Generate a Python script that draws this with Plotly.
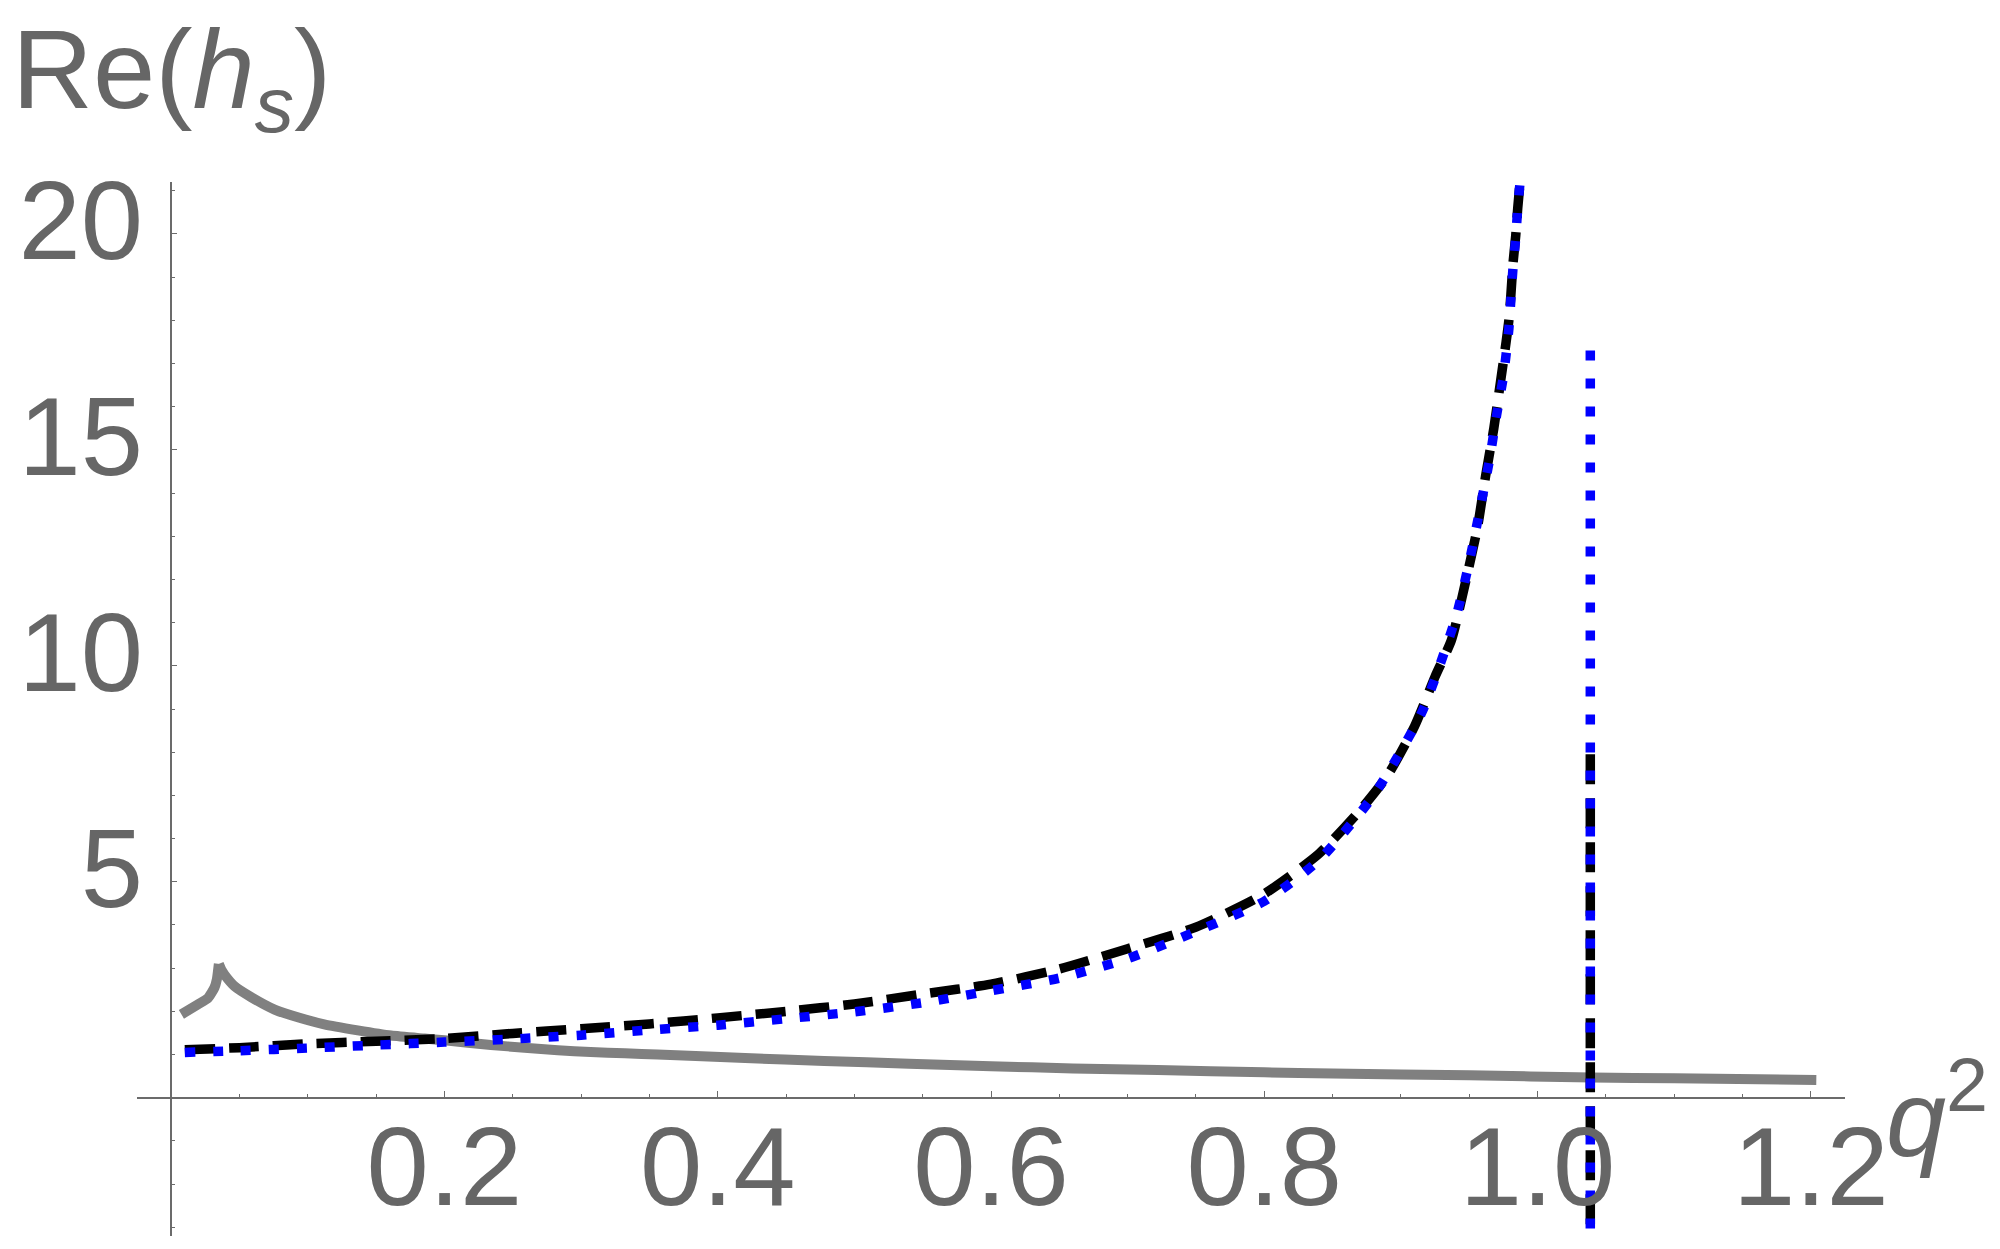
import plotly.graph_objects as go

# Re(h_s) vs q^2

# grey solid curve, split at the cusp near q^2 = 0.035
q_grey_left = [0.0075, 0.0195, 0.027, 0.0317, 0.0335, 0.0349]
h_grey_left = [1.93, 2.16, 2.31, 2.55, 2.75, 3.10]
q_grey_right = [0.0349, 0.037, 0.039, 0.0464, 0.0585, 0.0757, 0.0878, 0.112, 0.1366, 0.161,
                0.1854, 0.2, 0.234, 0.2586, 0.283, 0.307, 0.332, 0.356, 0.42, 0.478, 0.54,
                0.6, 0.66, 0.722, 0.8, 0.85, 0.95, 1.04, 1.1, 1.204]
h_grey_right = [3.10, 2.95, 2.85, 2.58, 2.33, 2.04, 1.91, 1.70, 1.56, 1.44,
                1.37, 1.33, 1.22, 1.16, 1.10, 1.06, 1.03, 1.00, 0.92, 0.85, 0.79,
                0.73, 0.68, 0.64, 0.59, 0.56, 0.52, 0.47, 0.45, 0.41]

# black dashed curve (None splits the branch from the vertical jump)
q_black = [0.01, 0.05, 0.1, 0.15, 0.2, 0.25, 0.3, 0.35, 0.4, 0.45, 0.5, 0.55, 0.6, 0.65,
           0.7, 0.75, 0.8, 0.84, 0.87, 0.89, 0.91, 0.925, 0.937, 0.947, 0.956, 0.962,
           0.968, 0.973, 0.977, 0.979, 0.9805, 0.982, 0.984, 0.9855, 0.9875,
           None, 1.0386, 1.0386]
h_black = [1.11, 1.16, 1.25, 1.31, 1.37, 1.49, 1.60, 1.71, 1.85, 2.00, 2.17, 2.40, 2.63, 2.98,
           3.45, 3.95, 4.72, 5.65, 6.65, 7.45, 8.60, 9.75, 10.6, 11.9, 13.2, 14.4,
           15.5, 16.6, 17.5, 18.0, 18.6, 19.3, 19.95, 20.6, 21.3,
           None, 7.95, -3.6]

# blue dotted curve
q_blue = [0.01, 0.05, 0.1, 0.15, 0.2, 0.25, 0.3, 0.35, 0.4, 0.45, 0.5, 0.55, 0.6, 0.65,
          0.7, 0.75, 0.8, 0.84, 0.88, 0.915, 0.94, 0.95, 0.958, 0.965, 0.97, 0.975,
          0.979, 0.9805, 0.982, 0.984, 0.9855, 0.9875,
          None, 1.0386, 1.0386]
h_blue = [1.05, 1.09, 1.15, 1.22, 1.29, 1.36, 1.45, 1.57, 1.68, 1.83, 1.99, 2.20, 2.48, 2.77,
          3.22, 3.85, 4.55, 5.50, 7.00, 8.90, 11.1, 12.4, 13.65, 14.8, 15.8, 16.7,
          17.8, 18.5, 19.2, 19.9, 20.6, 21.3,
          None, 17.3, -3.6]

x_ticks = [0.2, 0.4, 0.6, 0.8, 1.0, 1.2]
x_ticktext = ["0.2", "0.4", "0.6", "0.8", "1.0", "1.2"]
x_minor = [round(0.05 * i, 2) for i in range(1, 25)]
y_ticks = [5, 10, 15, 20]
y_minor = list(range(-3, 22))

x_range = [-0.025, 1.225]
y_range = [-3.2, 21.2]

grey_txt = "#666666"
axis_col = "#6b6b6b"
font = "Liberation Sans, Arial, Helvetica, sans-serif"

fig = go.Figure()
for qq, hh in [(q_grey_left, h_grey_left), (q_grey_right, h_grey_right)]:
    fig.add_trace(go.Scatter(x=qq, y=hh, mode="lines",
                             line=dict(color="#808080", width=10, shape="spline", smoothing=0.5),
                             showlegend=False))
fig.add_trace(go.Scatter(x=q_black, y=h_black, mode="lines", connectgaps=False,
                         line=dict(color="black", width=9.5, dash="30px,14px",
                                   shape="spline", smoothing=0.6),
                         showlegend=False))
fig.add_trace(go.Scatter(x=q_blue, y=h_blue, mode="lines", connectgaps=False,
                         line=dict(color="#0000ff", width=9.5, dash="10px,18px",
                                   shape="spline", smoothing=0.6),
                         showlegend=False))

# axes cross at the origin, like Mathematica's default
x0_frac = (0 - y_range[0]) / (y_range[1] - y_range[0])
y0_frac = (0 - x_range[0]) / (x_range[1] - x_range[0])

fig.update_xaxes(
    range=x_range, anchor="free", position=x0_frac, side="bottom",
    showline=True, linecolor=axis_col, linewidth=1.5,
    showgrid=False, zeroline=False,
    tickmode="array", tickvals=x_ticks, ticktext=x_ticktext,
    ticks="inside", ticklen=6, tickwidth=1.3, tickcolor=axis_col,
    minor=dict(tickmode="array", tickvals=x_minor, ticks="inside", ticklen=3.5,
               tickwidth=1, tickcolor=axis_col, showgrid=False),
    tickfont=dict(family=font, size=112, color=grey_txt),
    ticklabelstandoff=-28, automargin=False,
)
fig.update_yaxes(
    range=y_range, anchor="free", position=y0_frac, side="left",
    showline=True, linecolor=axis_col, linewidth=1.5,
    showgrid=False, zeroline=False,
    tickmode="array", tickvals=y_ticks,
    ticks="inside", ticklen=5, tickwidth=1.3, tickcolor=axis_col,
    minor=dict(tickmode="array", tickvals=y_minor, ticks="inside", ticklen=3.5,
               tickwidth=1, tickcolor=axis_col, showgrid=False),
    tickfont=dict(family=font, size=112, color=grey_txt),
    ticklabelstandoff=5, ticklabelshift=-14, automargin=False,
)

# axis labels
fig.add_annotation(text="Re(<i>h</i><sub><i>s</i></sub>)", xref="paper", yref="paper",
                   x=-0.0735, y=1.167, xanchor="left", yanchor="top", showarrow=False,
                   borderpad=0, font=dict(family=font, size=112, color=grey_txt))
fig.add_annotation(text="<i>q</i><sup>2</sup>", xref="paper", yref="paper",
                   x=1.0235, y=0.119, xanchor="left", yanchor="middle", showarrow=False,
                   borderpad=0, font=dict(family=font, size=108, color=grey_txt))

fig.update_layout(
    width=2000, height=1249,
    margin=dict(l=129, r=163, t=174, b=21),
    paper_bgcolor="white", plot_bgcolor="white",
)

fig.write_html("out.html")
